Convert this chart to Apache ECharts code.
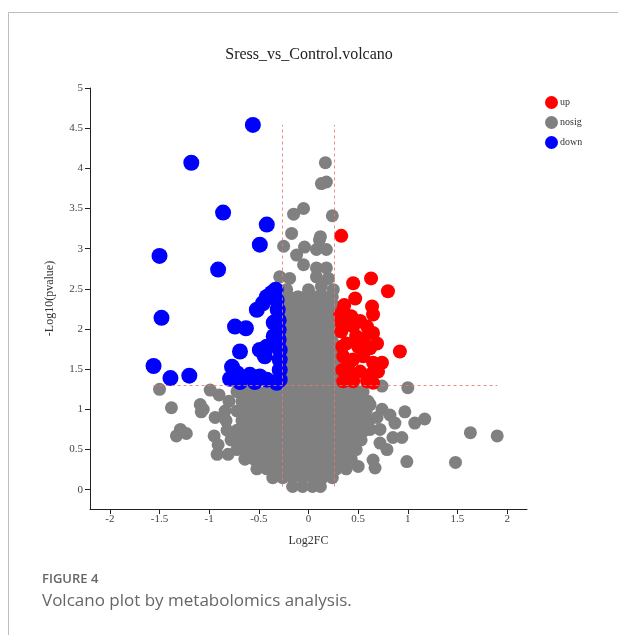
<!DOCTYPE html>
<html>
<head>
<meta charset="utf-8">
<script src="https://cdn.jsdelivr.net/npm/echarts@6/dist/echarts.min.js"></script>
<style>
  html, body { margin: 0; padding: 0; background: #fff; }
  #chart { width: 618px; height: 635px; }
</style>
</head>
<body>
<div id="chart"></div>
<script>
// tick labels
const xTicks = [-2, -1.5, -1, -0.5, 0, 0.5, 1, 1.5, 2];
const yTicks = [0, 0.5, 1, 1.5, 2, 2.5, 3, 3.5, 4, 4.5, 5];

// thresholds: |log2FC| > log2(1.2), p < 0.05
const fcCut = [-0.263, 0.263];
const pCut = 1.301;

// up-regulated [log2FC, -log10 p]
const upPoints = [
    [0.33, 3.16], [0.45, 2.57], [0.63, 2.63], [0.80, 2.47], [0.47, 2.38], [0.36, 2.30],
    [0.35, 2.24], [0.32, 2.18], [0.64, 2.28], [0.65, 2.18], [0.43, 2.16], [0.52, 2.10],
    [0.33, 2.08], [0.59, 2.03], [0.45, 2.03], [0.65, 1.95], [0.33, 1.97], [0.48, 1.91],
    [0.56, 1.88], [0.92, 1.72], [0.38, 1.82], [0.69, 1.82], [0.50, 1.78], [0.34, 1.78],
    [0.62, 1.76], [0.35, 1.66], [0.55, 1.66], [0.45, 1.62], [0.65, 1.58], [0.74, 1.58],
    [0.40, 1.55], [0.34, 1.49], [0.52, 1.47], [0.70, 1.47], [0.42, 1.45], [0.62, 1.43],
    [0.35, 1.35], [0.45, 1.35], [0.59, 1.35], [0.65, 1.33]
];

// down-regulated
const downPoints = [
    [-0.56, 4.54], [-1.18, 4.07], [-0.86, 3.45], [-0.42, 3.30], [-0.49, 3.05], [-1.50, 2.91],
    [-0.91, 2.74], [-1.48, 2.14], [-1.56, 1.54], [-1.39, 1.39], [-1.20, 1.42],
    [-0.74, 2.03], [-0.63, 2.01], [-0.69, 1.72], [-0.77, 1.53], [-0.72, 1.45], [-0.59, 1.43],
    [-0.49, 1.41], [-0.42, 1.37], [-0.69, 1.34], [-0.54, 1.34], [-0.32, 1.33], [-0.79, 1.38],
    [-0.49, 1.74], [-0.44, 1.66], [-0.42, 1.78], [-0.52, 2.24], [-0.46, 2.32], [-0.42, 2.40],
    [-0.35, 2.08], [-0.35, 1.91], [-0.37, 2.45],
    [-0.33, 2.49], [-0.32, 2.36], [-0.31, 2.24], [-0.30, 2.11], [-0.30, 1.99], [-0.30, 1.87],
    [-0.29, 1.74], [-0.29, 1.62], [-0.29, 1.49], [-0.29, 1.37]
];

// not significant: scattered points
const nosigScatter = [
    [0.17, 4.07], [0.13, 3.81], [0.18, 3.83], [-0.05, 3.50], [-0.15, 3.43], [0.24, 3.41],
    [-0.17, 3.19], [0.12, 3.15], [0.11, 3.11], [-0.25, 3.03], [-0.04, 3.02], [-0.12, 2.92],
    [0.08, 2.99], [0.18, 2.99], [-0.05, 2.80], [0.08, 2.76], [0.18, 2.76], [-0.29, 2.65],
    [-0.19, 2.63], [0.08, 2.65], [0.20, 2.63], [0.00, 2.49], [0.13, 2.53], [-0.22, 2.49],
    [-0.10, 2.40], [0.25, 2.49],
    [-1.50, 1.25], [-1.38, 1.02], [-1.29, 0.75], [-1.33, 0.67], [-1.23, 0.70], [-0.99, 1.24],
    [-0.90, 1.18], [-1.09, 1.06], [-1.06, 1.00], [-1.08, 0.97], [-0.94, 0.90], [-0.95, 0.67],
    [-0.91, 0.56], [-0.92, 0.44], [-0.81, 0.44],
    [0.74, 1.29], [1.00, 1.27], [0.62, 1.06], [0.82, 0.93], [0.97, 0.97], [1.07, 0.83],
    [1.17, 0.88], [0.87, 0.83], [0.62, 0.75], [0.85, 0.65], [0.94, 0.65], [0.72, 0.58],
    [0.79, 0.50], [0.65, 0.37], [0.99, 0.35], [1.63, 0.71], [1.90, 0.67], [1.48, 0.34],
    [0.67, 0.27], [0.50, 0.29], [0.74, 1.00], [0.69, 0.90], [0.72, 0.75]
];

// not significant: dense core, read row by row [-log10 p, log2FC values]
const nosigRows = [
    [2.40, [-0.20, -0.11, -0.02, 0.07, 0.16, 0.24]],
    [2.28, [-0.24, -0.15, -0.06, 0.03, 0.12, 0.21, 0.27]],
    [2.16, [-0.20, -0.11, -0.02, 0.07, 0.16, 0.24]],
    [2.04, [-0.24, -0.15, -0.06, 0.03, 0.12, 0.21, 0.27]],
    [1.92, [-0.20, -0.11, -0.02, 0.07, 0.16, 0.24]],
    [1.80, [-0.24, -0.15, -0.06, 0.03, 0.12, 0.21, 0.27]],
    [1.68, [-0.20, -0.11, -0.02, 0.07, 0.16, 0.24]],
    [1.56, [-0.24, -0.15, -0.06, 0.03, 0.12, 0.21, 0.27]],
    [1.44, [-0.20, -0.11, -0.02, 0.07, 0.16, 0.24]],
    [1.32, [-0.24, -0.15, -0.06, 0.03, 0.12, 0.21, 0.28]],
    [1.22, [-0.72, -0.62, -0.52, -0.42, -0.32, -0.22, -0.12, -0.02, 0.08, 0.18, 0.28, 0.38, 0.48, 0.55]],
    [1.10, [-0.80, -0.67, -0.57, -0.47, -0.37, -0.27, -0.17, -0.07, 0.03, 0.13, 0.23, 0.33, 0.43, 0.53, 0.60]],
    [0.98, [-0.84, -0.72, -0.62, -0.52, -0.42, -0.32, -0.22, -0.12, -0.02, 0.08, 0.18, 0.28, 0.38, 0.48, 0.58]],
    [0.86, [-0.83, -0.67, -0.57, -0.47, -0.37, -0.27, -0.17, -0.07, 0.03, 0.13, 0.23, 0.33, 0.43, 0.53, 0.61]],
    [0.74, [-0.82, -0.72, -0.62, -0.52, -0.42, -0.32, -0.22, -0.12, -0.02, 0.08, 0.18, 0.28, 0.38, 0.48, 0.57]],
    [0.62, [-0.78, -0.67, -0.57, -0.47, -0.37, -0.27, -0.17, -0.07, 0.03, 0.13, 0.23, 0.33, 0.43, 0.53]],
    [0.50, [-0.72, -0.62, -0.52, -0.42, -0.32, -0.22, -0.12, -0.02, 0.08, 0.18, 0.28, 0.38, 0.48]],
    [0.38, [-0.64, -0.55, -0.46, -0.37, -0.27, -0.17, -0.07, 0.03, 0.13, 0.23, 0.33, 0.43]],
    [0.26, [-0.52, -0.42, -0.32, -0.22, -0.12, -0.02, 0.08, 0.18, 0.28, 0.38]],
    [0.15, [-0.36, -0.26, -0.16, -0.06, 0.04, 0.14, 0.24]],
    [0.04, [-0.16, -0.06, 0.04, 0.12]]
];

const nosigPoints = nosigScatter.slice();
nosigRows.forEach(function (row) {
    row[1].forEach(function (x) { nosigPoints.push([x, row[0]]); });
});

// dashed guide lines span the data range
const allPoints = nosigPoints.concat(upPoints, downPoints);
const xs = allPoints.map(p => p[0]);
const ys = allPoints.map(p => p[1]);
const xLo = Math.min(...xs), xHi = Math.max(...xs);
const yLo = Math.min(...ys), yHi = Math.max(...ys);

const serif = "'Liberation Serif', 'DejaVu Serif', serif";
const chart = echarts.init(document.getElementById("chart"));
const option = {
    backgroundColor: "#fff",
    animation: false,
    title: {
        text: "Sress_vs_Control.volcano",
        left: "center",
        top: 42,
        textStyle: { fontFamily: serif, fontSize: 16, fontWeight: "normal", color: "#222" },
    },
    legend: {
        orient: "vertical",
        left: 540,
        top: 91,
        itemWidth: 13,
        itemHeight: 13,
        itemGap: 7,
        icon: "circle",
        data: ["up", "nosig", "down"],
        textStyle: { fontFamily: serif, fontSize: 10, color: "#333", padding: [0, 0, 0, -3] },
    },
    grid: { left: 90, right: 91, top: 88, bottom: 126 },
    xAxis: {
        type: "value",
        min: -2.2,
        max: 2.2,
        name: "Log2FC",
        nameLocation: "middle",
        nameGap: 26,
        nameTextStyle: { fontFamily: serif, fontSize: 12, color: "#333" },
        splitLine: { show: false },
        axisLine: { onZero: false, lineStyle: { color: "#222", width: 1 } },
        axisTick: { customValues: xTicks, length: 5, lineStyle: { color: "#222" } },
        axisLabel: { customValues: xTicks, margin: 5, fontFamily: serif, fontSize: 11, color: "#444" },
    },
    yAxis: {
        type: "value",
        min: -0.24,
        max: 5,
        name: "-Log10(pvalue)",
        nameLocation: "middle",
        nameGap: 34,
        nameTextStyle: { fontFamily: serif, fontSize: 12, color: "#333" },
        splitLine: { show: false },
        axisLine: { show: true, onZero: false, lineStyle: { color: "#222", width: 1 } },
        axisTick: { show: true, customValues: yTicks, length: 5, lineStyle: { color: "#222" } },
        axisLabel: { customValues: yTicks, margin: 7, fontFamily: serif, fontSize: 11, color: "#444" },
    },
    series: [
        {
            name: "nosig",
            type: "scatter",
            data: nosigPoints,
            symbolSize: 13,
            itemStyle: { color: "#808080", opacity: 1 },
        },
        {
            name: "up",
            type: "scatter",
            data: upPoints,
            symbolSize: 14,
            itemStyle: { color: "#ff0000", opacity: 1 },
        },
        {
            name: "down",
            type: "scatter",
            data: downPoints,
            symbolSize: 16,
            itemStyle: { color: "#0000ff", opacity: 1 },
        },
        {
            name: "guides",
            type: "line",
            data: [],
            z: 5,
            markLine: {
                silent: true,
                symbol: ["none", "none"],
                label: { show: false },
                lineStyle: { type: [3, 3], color: "#e87878", width: 1, opacity: 0.85 },
                data: [
                    [{ coord: [fcCut[0], yLo] }, { coord: [fcCut[0], yHi] }],
                    [{ coord: [fcCut[1], yLo] }, { coord: [fcCut[1], yHi] }],
                    [{ coord: [xLo, pCut] }, { coord: [xHi, pCut] }],
                ],
            },
        },
    ],
    graphic: [
        {
            type: "rect",
            silent: true,
            shape: { x: 8.5, y: 12.5, width: 700, height: 700 },
            style: { fill: "none", stroke: "#bdbdbd", lineWidth: 1 },
        },
        {
            type: "text",
            left: 42,
            top: 573,
            style: { text: "FIGURE 4", font: "600 13px 'Open Sans', sans-serif", fill: "#666" },
        },
        {
            type: "text",
            left: 42,
            top: 593,
            style: { text: "Volcano plot by metabolomics analysis.", font: "17px 'Open Sans', sans-serif", fill: "#666" },
        },
    ],
};
chart.setOption(option);
</script>
</body>
</html>
